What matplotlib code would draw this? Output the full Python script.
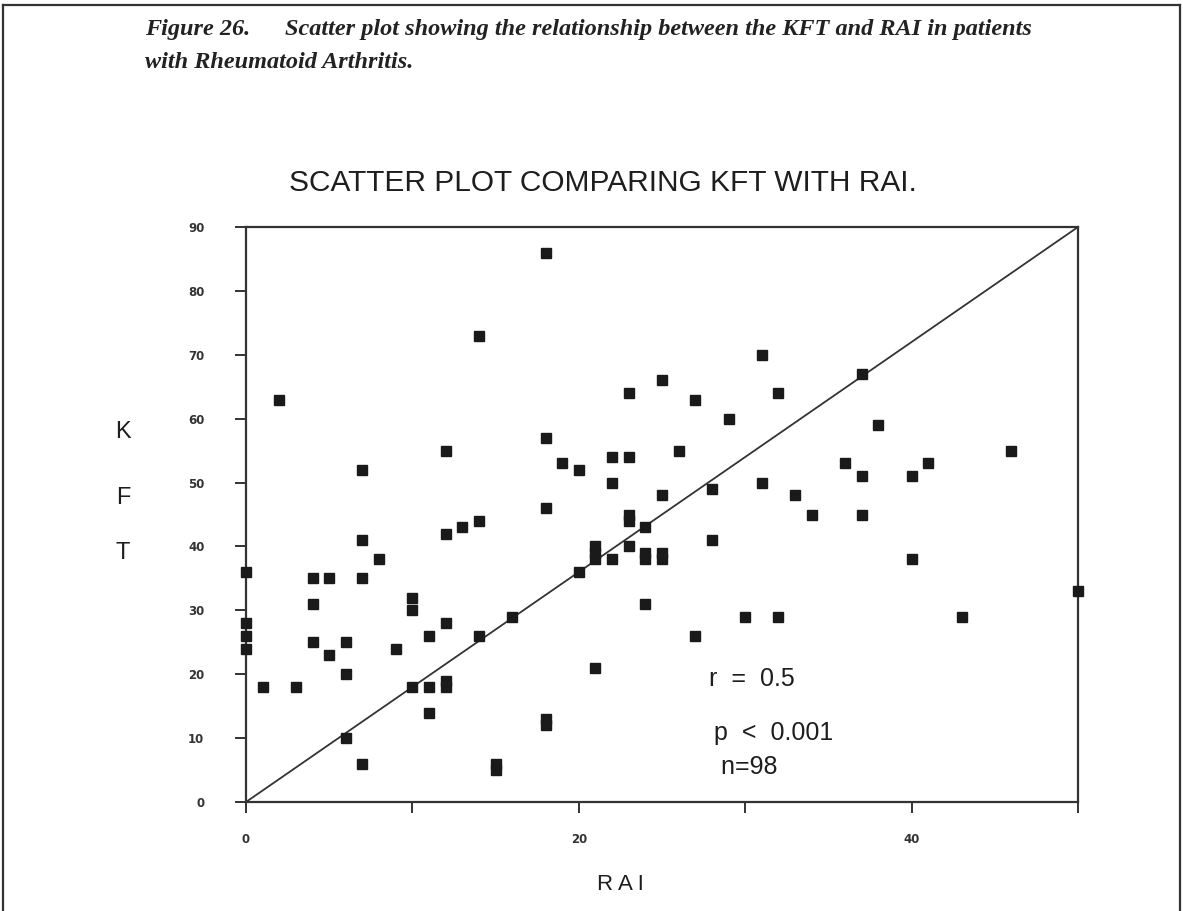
import matplotlib
matplotlib.use("Agg")
import matplotlib.pyplot as plt
from matplotlib.lines import Line2D

# RAI (x) and KFT (y) for each patient
rai = [2, 7, 12, 14,
       18, 31, 25, 23, 32, 27, 29, 18, 19, 20, 22, 23, 26, 22, 25, 28, 31, 33,
       37, 38, 36, 37, 40, 41, 46,
       0, 0, 0, 0, 1, 3, 4, 5, 4, 4, 5, 6, 6, 6, 7, 7, 7, 8, 9, 10, 10, 10,
       11, 11, 11, 12, 12, 12, 12, 13, 14, 14, 16, 15, 15,
       18, 23, 23, 24, 28, 21, 21, 21, 22, 23, 24, 24, 25, 25, 20, 24, 30, 32,
       27, 21, 18, 18,
       34, 37, 40, 50, 43]
kft = [63, 52, 55, 73,
       86, 70, 66, 64, 64, 63, 60, 57, 53, 52, 54, 54, 55, 50, 48, 49, 50, 48,
       67, 59, 53, 51, 51, 53, 55,
       36, 28, 26, 24, 18, 18, 35, 35, 31, 25, 23, 25, 20, 10, 41, 35, 6, 38,
       24, 32, 30, 18,
       18, 26, 14, 42, 28, 19, 18, 43, 44, 26, 29, 6, 5,
       46, 45, 44, 43, 41, 40, 39, 38, 38, 40, 39, 38, 39, 38, 36, 31, 29, 29,
       26, 21, 13, 12,
       45, 45, 38, 33, 29]

x_ticks = [0, 10, 20, 30, 40, 50]
x_labels = ["0", "", "20", "", "40", ""]
y_ticks = [0, 10, 20, 30, 40, 50, 60, 70, 80, 90]

stats_text = ["r  =  0.5", "p  <  0.001", " n=98"]

fig = plt.figure(figsize=(11.83, 9.11), dpi=100)
ax = fig.add_axes([246 / 1183, 1 - 802 / 911, 832 / 1183, 575 / 911])

# reference diagonal across the plot
ax.plot([0, 50], [0, 90], color="#333333", lw=1.3, zorder=2)
ax.plot(rai, kft, "s", color="#1a1a1a", markersize=7.6, clip_on=False, zorder=3)

ax.set_xlim(0, 50)
ax.set_ylim(0, 90)
ax.set_xticks(x_ticks)
ax.set_xticklabels(x_labels, fontsize=8.5, fontweight="bold")
ax.set_yticks(y_ticks)
ax.set_yticklabels([str(v) for v in y_ticks], fontsize=8.5, fontweight="bold")
ax.tick_params(direction="out", length=8, width=1.4, colors="#333333", pad=14)
ax.tick_params(axis="y", pad=22)
for s in ax.spines.values():
    s.set_linewidth(1.6)
    s.set_color("#333333")

txt = dict(fontsize=18, family="Liberation Sans", color="#1e1e1e", va="center")
ax.text(27.8, 19.2, stats_text[0], **txt)
ax.text(28.1, 10.8, stats_text[1], **txt)
ax.text(28.1, 5.4, stats_text[2], **txt)

fig.text(603 / 1183, 1 - 183 / 911, "SCATTER PLOT COMPARING KFT WITH RAI.",
         fontsize=21.5, family="Liberation Sans", color="#1e1e1e", ha="center", va="center")
fig.text(620 / 1183, 1 - 885 / 911, "R A I", fontsize=16, family="Liberation Sans",
         color="#1e1e1e", ha="center", va="center")
for letter, yp in zip("KFT", [432, 498, 553]):
    fig.text(123 / 1183, 1 - yp / 911, letter, fontsize=17, family="Liberation Sans",
             color="#1e1e1e", ha="center", va="center")

# figure caption
cap = dict(fontsize=17.5, family="Liberation Serif", style="italic", fontweight="bold", color="#222222", va="center")
fig.text(145 / 1183, 1 - 30 / 911, "Figure 26.", **cap)
fig.text(285 / 1183, 1 - 30 / 911, "Scatter plot showing the relationship between the KFT and RAI in patients", **cap)
fig.text(145 / 1183, 1 - 62 / 911, "with Rheumatoid Arthritis.", **cap)

# page frame
fig.add_artist(Line2D([3 / 1183, 3 / 1183], [0, 1 - 5 / 911], color="#333333", lw=1.6))
fig.add_artist(Line2D([3 / 1183, 1180 / 1183], [1 - 5 / 911, 1 - 5 / 911], color="#333333", lw=1.6))
fig.add_artist(Line2D([1180 / 1183, 1180 / 1183], [0, 1 - 5 / 911], color="#333333", lw=1.6))

fig.savefig("out.png", dpi=100)
